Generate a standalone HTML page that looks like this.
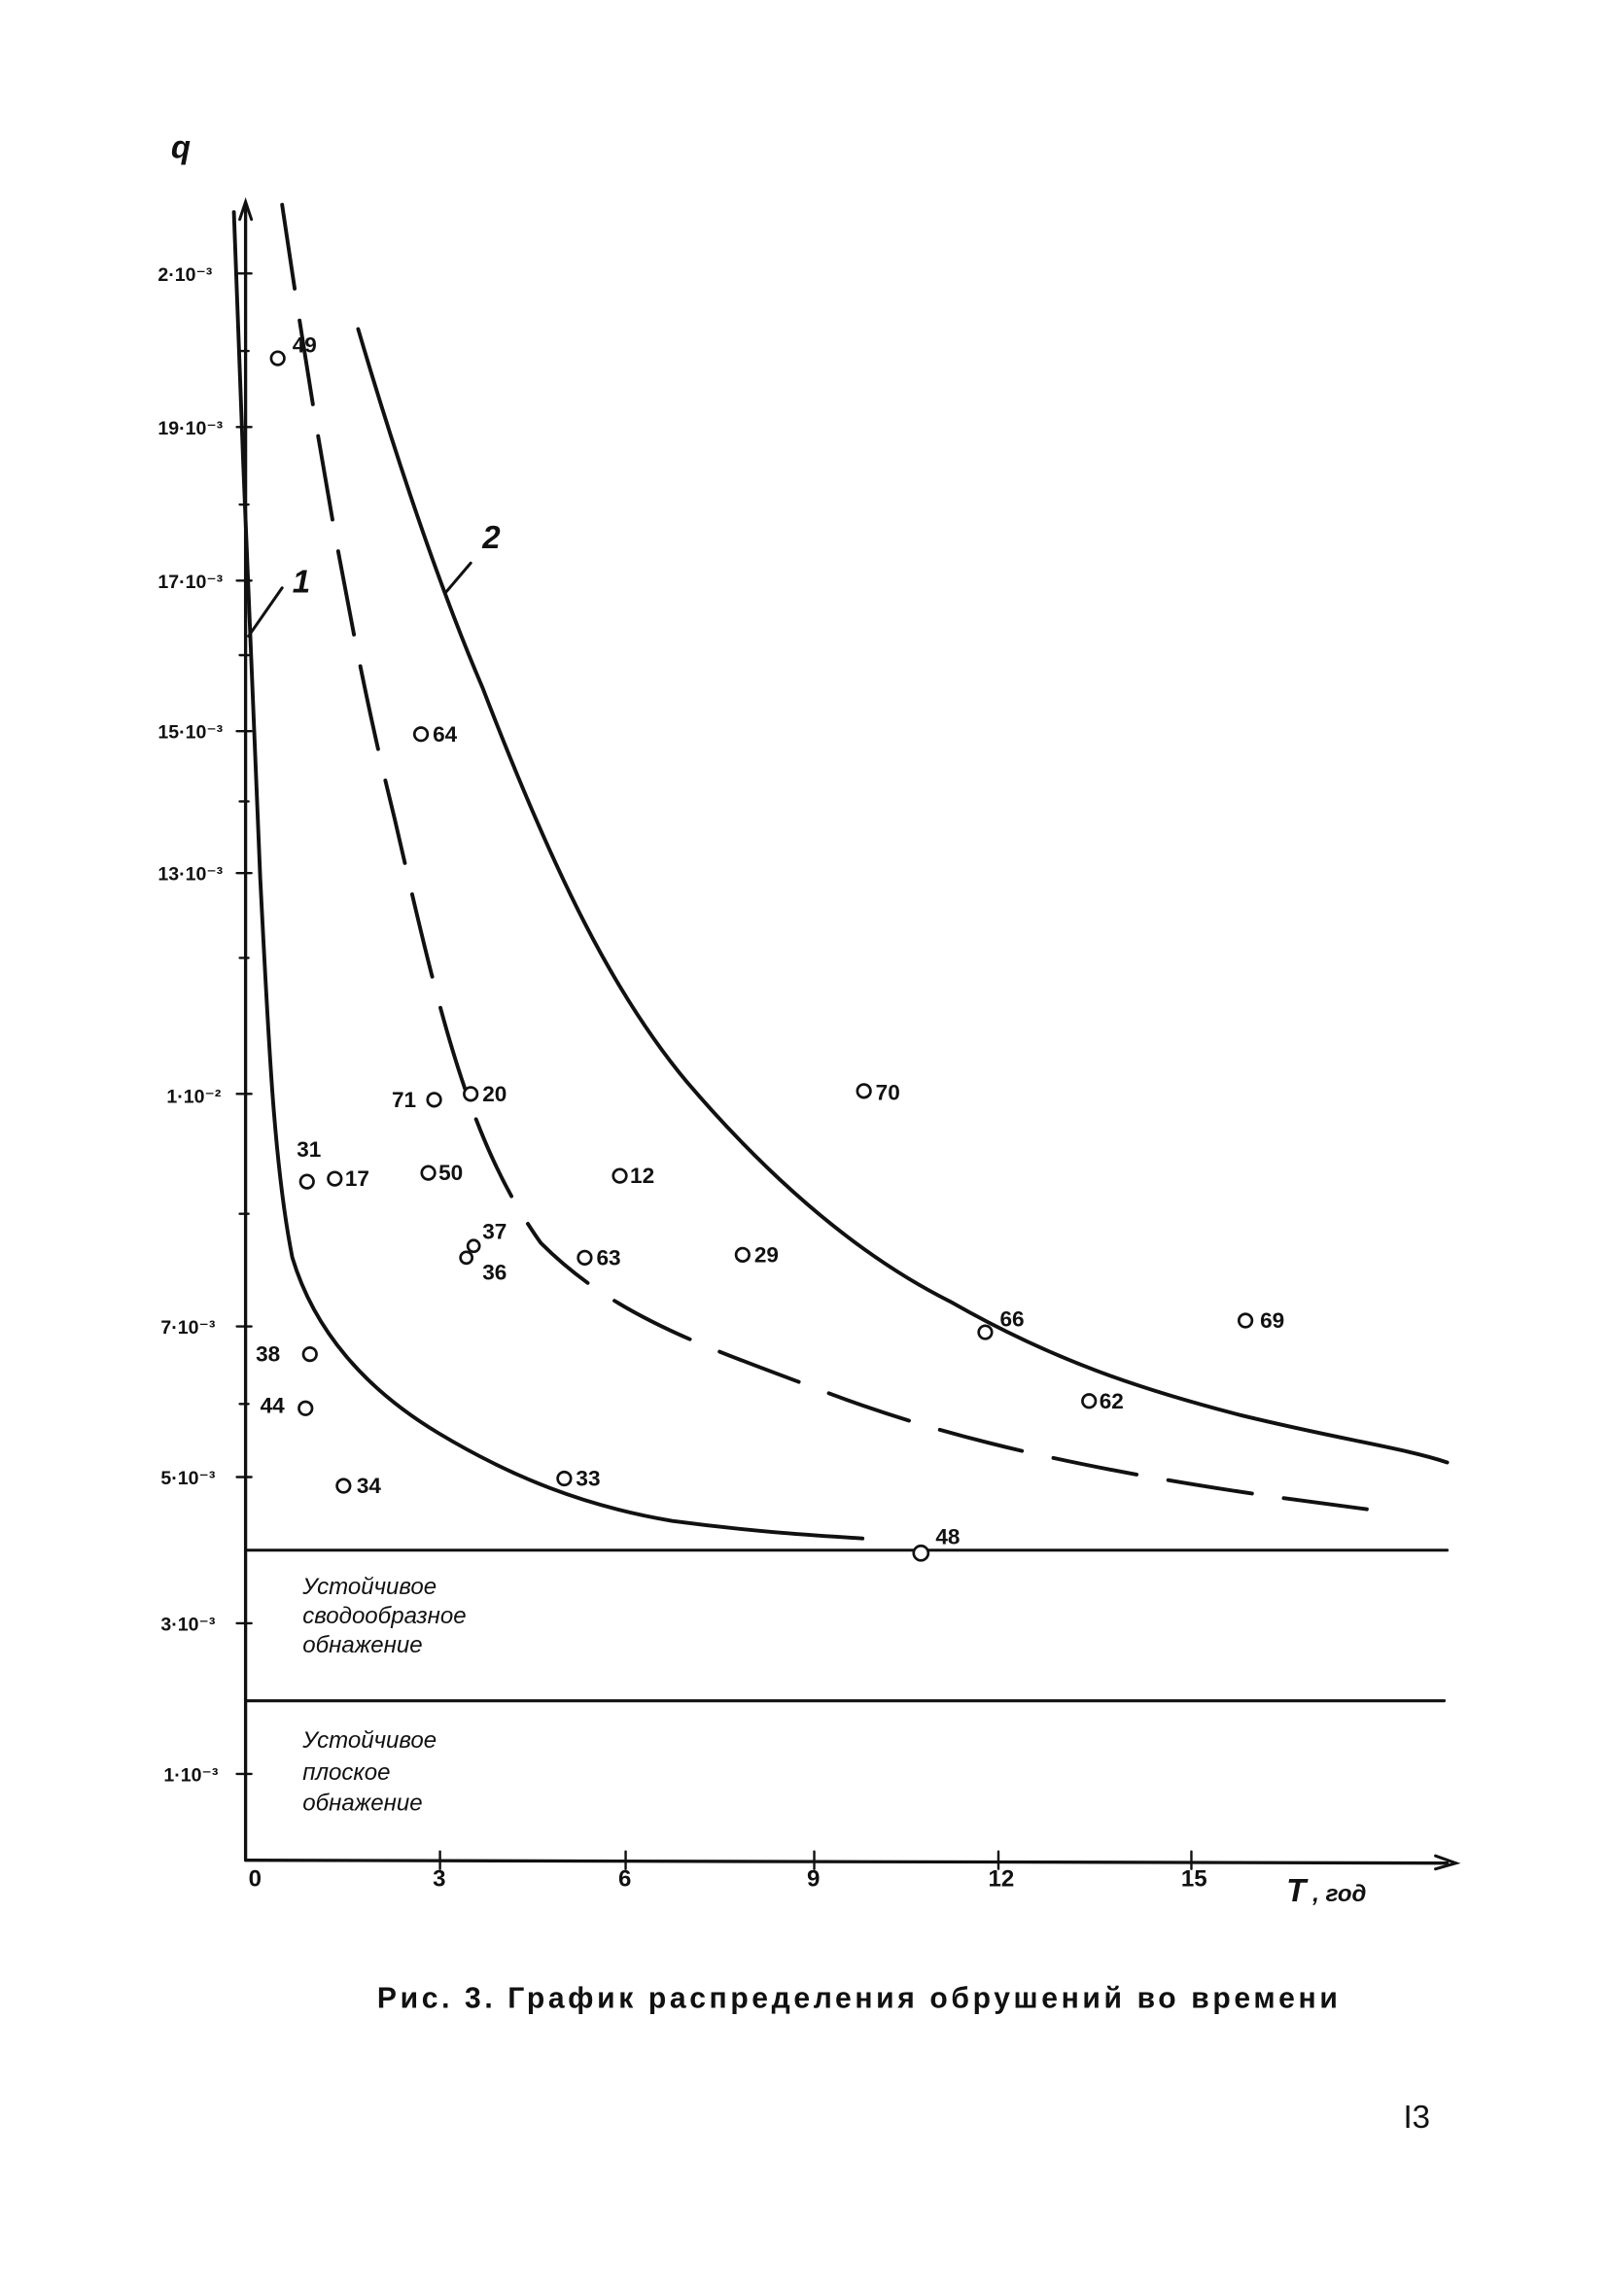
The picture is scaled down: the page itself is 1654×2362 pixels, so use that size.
<!DOCTYPE html>
<html><head><meta charset="utf-8"><style>
html,body{margin:0;padding:0;background:#fff;}
svg{display:block;}
text{font-family:"Liberation Sans","DejaVu Sans",sans-serif;fill:#111;}
</style></head><body>
<svg width="1654" height="2362" viewBox="0 0 1100 1570" preserveAspectRatio="none" xmlns="http://www.w3.org/2000/svg">
<g stroke="#111" fill="none" stroke-linecap="round">
<!-- axes -->
<line x1="168" y1="140" x2="168" y2="1272" stroke-width="2.2"/>
<line x1="168" y1="1272" x2="990" y2="1274" stroke-width="2.2"/>
<path d="M982 1269 L996 1274 L982 1278" stroke-width="2"/>
<path d="M164 150 L168 138 L172 150" stroke-width="2"/>
<!-- y ticks -->
<g stroke-width="1.6">
<line x1="162" y1="187" x2="172" y2="187"/><line x1="162" y1="292" x2="172" y2="292"/>
<line x1="162" y1="397" x2="172" y2="397"/><line x1="162" y1="500" x2="172" y2="500"/>
<line x1="162" y1="597" x2="172" y2="597"/><line x1="162" y1="748" x2="172" y2="748"/>
<line x1="162" y1="907" x2="172" y2="907"/><line x1="162" y1="1010" x2="172" y2="1010"/>
<line x1="162" y1="1110" x2="172" y2="1110"/><line x1="162" y1="1213" x2="172" y2="1213"/>
<line x1="164" y1="240" x2="170" y2="240"/><line x1="164" y1="345" x2="170" y2="345"/>
<line x1="164" y1="448" x2="170" y2="448"/><line x1="164" y1="548" x2="170" y2="548"/>
<line x1="164" y1="655" x2="170" y2="655"/><line x1="164" y1="830" x2="170" y2="830"/>
<line x1="164" y1="960" x2="170" y2="960"/>
</g>
<!-- x ticks -->
<g stroke-width="1.6">
<line x1="301" y1="1266" x2="301" y2="1278"/><line x1="428" y1="1266" x2="428" y2="1278"/>
<line x1="557" y1="1266" x2="557" y2="1278"/><line x1="683" y1="1266" x2="683" y2="1278"/>
<line x1="815" y1="1266" x2="815" y2="1278"/>
</g>
<!-- horizontal lines -->
<line x1="168" y1="1060" x2="990" y2="1060" stroke-width="2"/>
<line x1="168" y1="1163" x2="988" y2="1163" stroke-width="2"/>
<!-- curve 1 -->
<path d="M160 145 C166 300 170 430 178 600 C184 720 188 800 200 860 C215 910 250 950 300 980 C350 1010 400 1030 460 1040 C520 1048 560 1050 590 1052" stroke-width="2.6"/>
<!-- dashed -->
<path d="M193 140 C215 290 240 440 270 560 C300 690 320 780 370 850 C420 900 480 920 560 950 C650 985 760 1010 935 1032" stroke-width="2.6" stroke-dasharray="58 22"/>
<!-- curve 2 -->
<path d="M245 225 C270 310 300 400 330 470 C380 600 420 680 470 740 C530 810 590 860 650 890 C720 930 780 950 850 968 C920 985 960 990 990 1000" stroke-width="2.6"/>
<!-- leaders -->
<line x1="170" y1="435" x2="193" y2="402" stroke-width="2"/>
<line x1="305" y1="405" x2="322" y2="385" stroke-width="2"/>
<!-- points -->
<g stroke-width="1.8">
<circle cx="190" cy="245" r="4.5"/><circle cx="288" cy="502" r="4.5"/>
<circle cx="297" cy="752" r="4.5"/><circle cx="322" cy="748" r="4.5"/>
<circle cx="210" cy="808" r="4.5"/><circle cx="229" cy="806" r="4.5"/>
<circle cx="293" cy="802" r="4.5"/><circle cx="424" cy="804" r="4.5"/>
<circle cx="324" cy="852" r="4"/><circle cx="319" cy="860" r="4"/>
<circle cx="400" cy="860" r="4.5"/><circle cx="508" cy="858" r="4.5"/>
<circle cx="591" cy="746" r="4.5"/><circle cx="674" cy="911" r="4.5"/>
<circle cx="852" cy="903" r="4.5"/><circle cx="212" cy="926" r="4.5"/>
<circle cx="209" cy="963" r="4.5"/><circle cx="745" cy="958" r="4.5"/>
<circle cx="235" cy="1016" r="4.5"/><circle cx="386" cy="1011" r="4.5"/>
<circle cx="630" cy="1062" r="5" fill="#fff"/>
</g>
</g>
<g font-size="15" font-weight="bold">
<text x="108" y="192" font-size="13">2·10⁻³</text>
<text x="108" y="297" font-size="13">19·10⁻³</text>
<text x="108" y="402" font-size="13">17·10⁻³</text>
<text x="108" y="505" font-size="13">15·10⁻³</text>
<text x="108" y="602" font-size="13">13·10⁻³</text>
<text x="114" y="754" font-size="13">1·10⁻²</text>
<text x="110" y="912" font-size="13">7·10⁻³</text>
<text x="110" y="1015" font-size="13">5·10⁻³</text>
<text x="110" y="1115" font-size="13">3·10⁻³</text>
<text x="112" y="1218" font-size="13">1·10⁻³</text>
<text x="117" y="108" font-size="22" font-style="italic">q</text>
<text x="170" y="1290" font-size="16">0</text><text x="296" y="1290" font-size="16">3</text>
<text x="423" y="1290" font-size="16">6</text><text x="552" y="1290" font-size="16">9</text>
<text x="676" y="1290" font-size="16">12</text><text x="808" y="1290" font-size="16">15</text>
<text x="880" y="1300" font-size="22" font-style="italic">T</text><text x="898" y="1300" font-size="16" font-style="italic">, год</text>
<text x="200" y="405" font-size="22" font-style="italic">1</text>
<text x="330" y="375" font-size="22" font-style="italic">2</text>
<text x="200" y="241">49</text><text x="296" y="507">64</text>
<text x="268" y="757">71</text><text x="330" y="753">20</text>
<text x="203" y="791">31</text><text x="236" y="811">17</text>
<text x="300" y="807">50</text><text x="431" y="809">12</text>
<text x="330" y="847">37</text><text x="330" y="875">36</text>
<text x="408" y="865">63</text><text x="516" y="863">29</text>
<text x="599" y="752">70</text><text x="684" y="907">66</text>
<text x="862" y="908">69</text><text x="175" y="931">38</text>
<text x="178" y="966">44</text><text x="752" y="963">62</text>
<text x="244" y="1021">34</text><text x="394" y="1016">33</text>
<text x="640" y="1056">48</text>
</g>
<g font-size="16" font-style="italic" font-family="'Liberation Mono',monospace">
<text x="207" y="1090">Устойчивое</text>
<text x="207" y="1110">сводообразное</text>
<text x="207" y="1130">обнажение</text>
<text x="207" y="1195">Устойчивое</text>
<text x="207" y="1217">плоское</text>
<text x="207" y="1238">обнажение</text>
</g>
<text x="258" y="1373" font-size="20" font-weight="bold" font-family="'Liberation Mono',monospace" textLength="657">Рис. 3. График распределения обрушений во времени</text>
<text x="960" y="1455" font-size="22" font-family="'Liberation Serif',serif">I3</text>
</svg>
</body></html>
